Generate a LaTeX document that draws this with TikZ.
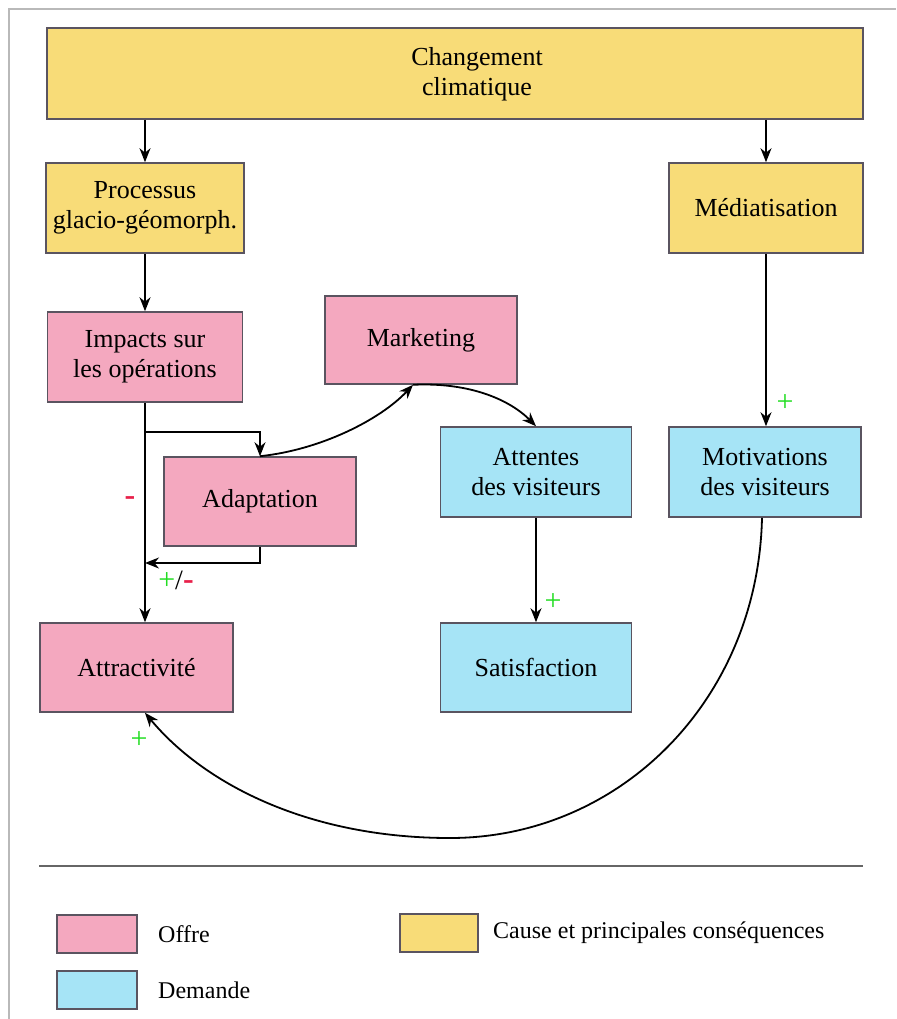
\documentclass[tikz,border=0pt]{standalone}
\usepackage{fontspec}
\setmainfont{Liberation Serif}
\usetikzlibrary{arrows.meta}
\definecolor{cyel}{HTML}{F8DC78}
\definecolor{cpink}{HTML}{F4A8BF}
\definecolor{ccyan}{HTML}{A6E4F6}
\definecolor{cborder}{HTML}{5A5460}
\definecolor{cgreen}{HTML}{22DD22}
\definecolor{cred}{HTML}{E8204A}
\tikzset{
  box/.style={draw=cborder, line width=1.6pt, align=center, inner sep=0pt,
    font=\fontsize{26}{30}\selectfont},
  ybox/.style={box, fill=cyel},
  pbox/.style={box, fill=cpink},
  cbox/.style={box, fill=ccyan},
  arr/.style={line width=1.8pt, -{Stealth[length=14pt,width=11pt]}},
  plus/.style={text=cgreen, font=\fontsize{30}{30}\selectfont, inner sep=0pt},
  minus/.style={text=cred, font=\bfseries\fontsize{32}{32}\selectfont, inner sep=0pt},
  legtxt/.style={anchor=west, inner sep=0pt, font=\fontsize{24}{28}\selectfont},
}
\begin{document}
\begin{tikzpicture}[x=1pt,y=-1pt]
\useasboundingbox (0,0) rectangle (896,1019);
% frame
\draw[gray!55, line width=1.6pt] (9,1019) -- (9,9) -- (896,9);

% nodes
\node[ybox, minimum width=816, minimum height=91] (chg) at (455,73.5) {};
\node[inner sep=0pt, align=center, font=\fontsize{26}{30}\selectfont] (chgt) at (477,74) {Changement\\climatique};
\node[ybox, minimum width=198, minimum height=90] (proc) at (145,208) {Processus\\glacio-géomorph.};
\node[ybox, minimum width=194, minimum height=90] (med) at (766,208) {Médiatisation};
\node[pbox, minimum width=195, minimum height=90] (imp) at (145,357) {Impacts sur\\les opérations};
\node[pbox, minimum width=192, minimum height=88] (mkt) at (421,340) {Marketing};
\node[pbox, minimum width=192, minimum height=89] (adp) at (260,501.5) {Adaptation};
\node[cbox, minimum width=191, minimum height=90] (att) at (536,472) {Attentes\\des visiteurs};
\node[cbox, minimum width=192, minimum height=90] (mot) at (765,472) {Motivations\\des visiteurs};
\node[cbox, minimum width=191, minimum height=89] (sat) at (536,667.5) {Satisfaction};
\node[pbox, minimum width=193, minimum height=89] (attr) at (136.5,667.5) {Attractivité};

% connectors
\draw[arr] (proc.north |- chg.south) -- (proc.north);
\draw[arr] (med.north |- chg.south) -- (med.north);
\draw[arr] (proc.south) -- (imp.north);
\draw[arr] (imp.south) -- (imp.south |- attr.north);
\coordinate (b1) at (145,432);
\coordinate (b2) at (145,563);
\draw[arr] (b1) -| (adp.north);
\draw[arr] (adp.south) |- (b2);
\coordinate (mk) at ([xshift=-8pt]mkt.south);
\draw[arr] (adp.north) .. controls (320,450) and (380,420) .. (mk);
\draw[arr] (mk) .. controls (470,382) and (510,400) .. (att.north);
\draw[arr] (att.south) -- (sat.north);
\draw[arr] (med.south) -- (med.south |- mot.north);
\coordinate (mb) at ([xshift=-3pt]mot.south);
\coordinate (bt) at (450,838);
\coordinate (ab) at ([xshift=8.5pt]attr.south);
\draw[line width=1.8pt] (mb) .. controls (758,700) and (620,838) .. (bt);
\draw[arr] (bt) .. controls (310,838) and (205,785) .. (ab);

% signs
\node[minus] (m1) at (130,501) {-};
\node[inner sep=0pt, font=\fontsize{28}{28}\selectfont] (pm) at (176,580) {\textcolor{cgreen}{\fontsize{30}{30}\selectfont +}/\textcolor{cred}{\bfseries\fontsize{32}{32}\selectfont -}};
\node[plus] (p1) at (553,602) {+};
\node[plus] (p2) at (785,403) {+};
\node[plus] (p3) at (139,740) {+};

% legend
\draw[gray!80!black, line width=1.6pt] (39,866) -- (863,866);
\node[pbox, minimum width=80, minimum height=38] (lp) at (97,934) {};
\node[legtxt] (lpt) at (158,934) {Offre};
\node[ybox, minimum width=78, minimum height=38] (ly) at (439,933) {};
\node[legtxt] (lyt) at (493,933) {Cause et principales conséquences};
\node[cbox, minimum width=80, minimum height=38] (lc) at (97,990) {};
\node[legtxt] (lct) at (158,990) {Demande};
\end{tikzpicture}
\end{document}
